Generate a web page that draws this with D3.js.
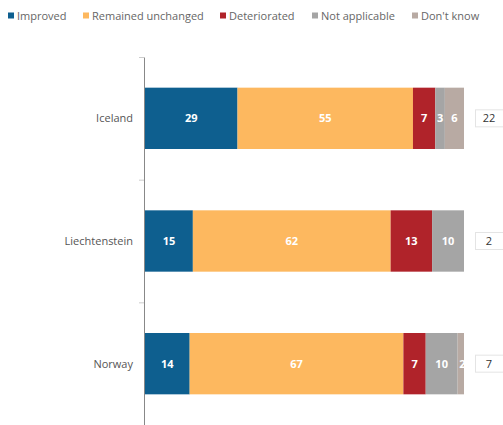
<!DOCTYPE html>
<html><head><meta charset="utf-8">
<script src="https://cdn.jsdelivr.net/npm/d3@7"></script>
<style>body{margin:0;background:#fff}svg{display:block}</style>
</head><body>
<script>
const countries = ["Iceland", "Liechtenstein", "Norway"];
const seriesNames = ["Improved", "Remained unchanged", "Deteriorated", "Not applicable", "Don't know"];
const improved = [29, 15, 14];
const unchanged = [55, 62, 67];
const deteriorated = [7, 13, 7];
const notApplicable = [3, 10, 10];
const dontKnow = [6, 0, 2];
const sideValues = [22, 2, 7];
const colors = ["#0e5f8f", "#fdb85f", "#b0232a", "#a5a5a5", "#b8aaa3"];

const W = 503, H = 425;
const svg = d3.select("body").append("svg").attr("width", W).attr("height", H);
const font = "'Open Sans', 'DejaVu Sans', sans-serif";

const seriesVals = [improved, unchanged, deteriorated, notApplicable, dontKnow];
const rows = countries.map((c, i) => {
  const o = {country: c};
  seriesNames.forEach((s, j) => o[s] = seriesVals[j][i]);
  return o;
});
const stacked = d3.stack().keys(seriesNames)(rows);

const x = d3.scaleLinear().domain([0, 100]).range([145, 464]);
const y = d3.scaleBand().domain(countries).range([57, 425]).paddingInner(0.5).paddingOuter(0.25);

// legend
const legX = [8, 83, 220, 312, 412];
const leg = svg.append("g");
seriesNames.forEach((s, i) => {
  leg.append("rect").attr("x", legX[i]).attr("y", 12.5).attr("width", 6).attr("height", 6).attr("fill", colors[i]);
  leg.append("text").attr("x", legX[i] + 9).attr("y", 19.5).text(s)
    .attr("font-family", font).attr("font-size", 11).attr("fill", "#666");
});

// axis
const axisScale = d3.scaleBand().domain(countries).range([57, 425]);
const axisG = svg.append("g").attr("transform", "translate(144,0)")
  .call(d3.axisLeft(axisScale).tickSize(0).tickPadding(11));
axisG.select(".domain").attr("stroke", "#888");
axisG.selectAll("text").attr("font-family", font).attr("font-size", 11).attr("fill", "#555")
  .attr("dy", "0.35em");
// tick marks at band boundaries
const bounds = countries.map(c => axisScale(c));
svg.append("g").selectAll("line").data(bounds).join("line")
  .attr("x1", 139).attr("x2", 144).attr("y1", d => d + 0.5).attr("y2", d => d + 0.5)
  .attr("stroke", "#ccc");

// bars
const g = svg.append("g");
stacked.forEach((layer, li) => {
  layer.forEach((d, ri) => {
    const w = x(d[1]) - x(d[0]);
    if (w <= 0) return;
    g.append("rect").attr("x", x(d[0])).attr("y", y(countries[ri]))
      .attr("width", w).attr("height", y.bandwidth()).attr("fill", colors[li]);
    const v = d[1] - d[0];
    g.append("text").attr("x", (x(d[0]) + x(d[1])) / 2 + (w < 8 ? 1.5 : 0))
      .attr("y", y(countries[ri]) + y.bandwidth() / 2).attr("dy", "0.35em")
      .attr("text-anchor", "middle").attr("font-family", font).attr("font-weight", "bold")
      .attr("font-size", 11).attr("fill", "#fff").text(v);
  });
});

// side boxes
const sg = svg.append("g");
countries.forEach((c, i) => {
  const cy = y(c) + y.bandwidth() / 2;
  sg.append("rect").attr("x", 475.5).attr("y", cy - 8.5).attr("width", 30).attr("height", 17)
    .attr("fill", "#fff").attr("stroke", "#e4e4e4");
  sg.append("text").attr("x", 489).attr("y", cy).attr("dy", "0.35em").attr("text-anchor", "middle")
    .attr("font-family", font).attr("font-size", 11).attr("fill", "#333").text(sideValues[i]);
});
</script>
</body></html>
